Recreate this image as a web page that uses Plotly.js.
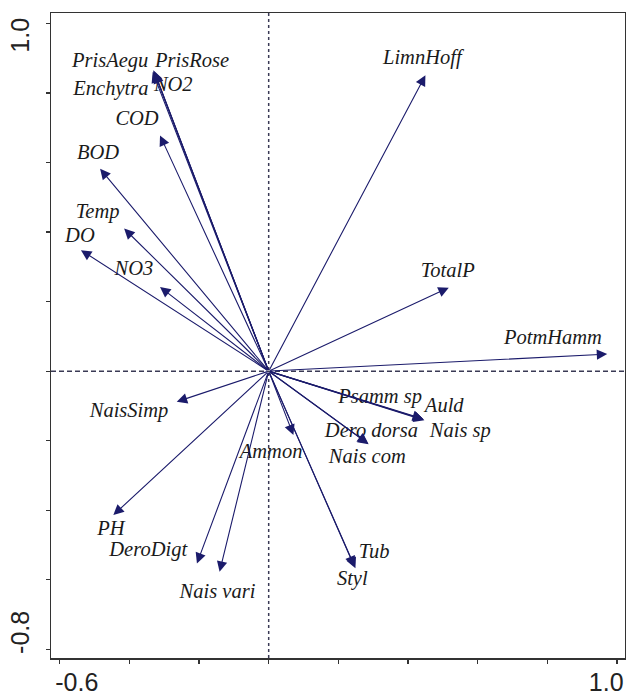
<!DOCTYPE html>
<html>
<head>
<meta charset="utf-8">
<script src="https://cdn.plot.ly/plotly-3.0.1.min.js"></script>
<style>html,body{margin:0;padding:0;background:#fff;}#chart{width:626px;height:695px;}</style>
</head>
<body>
<div id="chart"></div>
<script>
// Arrow tips (biplot scores)
const arrowNames = ["PrisAegu","PrisRose","Enchytra","NO2","COD","BOD","Temp","DO","NO3",
  "LimnHoff","TotalP","PotmHamm","Psamm sp","Auld","Nais sp","Dero dorsa","Nais com",
  "Ammon","Tub","Styl","NaisSimp","PH","DeroDigt","Nais vari"];
const arrowX = [-0.331,-0.329,-0.333,-0.327,-0.312,-0.484,-0.415,-0.539,-0.312,
  0.450,0.517,0.972,0.445,0.443,0.447,0.287,0.285,
  0.071,0.249,0.246,-0.264,-0.446,-0.206,-0.141];
const arrowY = [0.865,0.862,0.860,0.858,0.678,0.582,0.410,0.348,0.242,
  0.851,0.240,0.049,-0.139,-0.137,-0.141,-0.210,-0.208,
  -0.184,-0.567,-0.562,-0.088,-0.414,-0.553,-0.577];

// Label positions (text centres, in axis units)
const labelNames = ["PrisAegu","PrisRose","Enchytra","NO2","COD","BOD","Temp","DO","NO3",
  "LimnHoff","TotalP","PotmHamm","Psamm sp","Auld","Nais sp","Dero dorsa","Nais com",
  "Ammon","Tub","Styl","NaisSimp","PH","DeroDigt","Nais vari"];
const labelX = [-0.455,-0.220,-0.453,-0.274,-0.378,-0.490,-0.491,-0.542,-0.387,
  0.441,0.514,0.816,0.320,0.504,0.550,0.295,0.283,
  0.007,0.303,0.240,-0.401,-0.453,-0.346,-0.147];
const labelY = [0.888,0.888,0.810,0.819,0.724,0.626,0.454,0.386,0.290,
  0.899,0.285,0.092,-0.078,-0.103,-0.174,-0.174,-0.250,
  -0.236,-0.523,-0.601,-0.117,-0.457,-0.516,-0.638];

// Axis ticks
const xTicks = [-0.6,-0.4,-0.2,0,0.2,0.4,0.6,0.8,1.0];
const yTicks = [-0.8,-0.6,-0.4,-0.2,0,0.2,0.4,0.6,0.8,1.0];
const xTickLabels = ["-0.6","1.0"];
const yTickLabels = ["-0.8","1.0"];

const arrowColor = "#1b1b6b";
const xRange = [-0.625, 1.023];
const yRange = [-0.825, 1.03];

const annotations = arrowNames.map((n, i) => ({
  x: arrowX[i], y: arrowY[i], ax: 0, ay: 0,
  xref: "x", yref: "y", axref: "x", ayref: "y",
  text: "", showarrow: true, arrowhead: 2, arrowsize: 1.9, arrowwidth: 1.1,
  arrowcolor: arrowColor, standoff: 0, startstandoff: 0
}));

const traces = [
  {x: labelX, y: labelY, text: labelNames.map(t => "<i>" + t + "</i>"), mode: "text", type: "scatter",
   textposition: "middle center", hoverinfo: "none", showlegend: false,
   textfont: {family: "Liberation Serif", size: 20.5, color: "#1a1a1a"}},
  {x: [0], y: [0], xaxis: "x2", yaxis: "y2", mode: "markers",
   marker: {opacity: 0}, hoverinfo: "none", showlegend: false}
];

const tickFont = {family: "Liberation Sans", size: 25, color: "#222"};

const layout = {
  width: 626, height: 695,
  margin: {l: 51, r: 1, t: 13, b: 37},
  paper_bgcolor: "#fff", plot_bgcolor: "#fff",
  showlegend: false,
  font: {family: "Liberation Sans"},
  xaxis: {range: xRange, tickvals: xTicks, ticktext: xTicks.map(() => ""),
    ticks: "outside", ticklen: 4, tickwidth: 1.2, tickcolor: "#333",
    showline: true, mirror: true, linecolor: "#333", linewidth: 1.5,
    showgrid: false, zeroline: false, fixedrange: true},
  yaxis: {range: yRange, tickvals: yTicks, ticktext: yTicks.map(() => ""),
    ticks: "outside", ticklen: 4, tickwidth: 1.2, tickcolor: "#333",
    showline: true, mirror: true, linecolor: "#333", linewidth: 1.5,
    showgrid: false, zeroline: false, fixedrange: true},
  xaxis2: {overlaying: "x", anchor: "y", side: "bottom", range: xRange,
    tickvals: [-0.551, 0.969], ticktext: xTickLabels,
    ticks: "outside", ticklen: 2, tickcolor: "rgba(0,0,0,0)", showline: false,
    showgrid: false, zeroline: false, fixedrange: true, tickfont: tickFont},
  yaxis2: {overlaying: "y", anchor: "x", side: "left", range: yRange,
    tickvals: [-0.762, 0.955], ticktext: yTickLabels, tickangle: -90,
    ticks: "outside", ticklen: 11, tickcolor: "rgba(0,0,0,0)", showline: false,
    showgrid: false, zeroline: false, fixedrange: true, tickfont: tickFont},
  shapes: [
    {type: "line", xref: "x", yref: "paper", x0: 0, x1: 0, y0: 0, y1: 1,
     line: {color: "#3a3a55", width: 1.5, dash: "3px,3px"}},
    {type: "line", xref: "paper", yref: "y", x0: 0, x1: 1, y0: 0, y1: 0,
     line: {color: "#3a3a55", width: 1.5, dash: "5px,3px"}}
  ],
  annotations: annotations
};

Plotly.newPlot("chart", traces, layout, {displayModeBar: false, staticPlot: true});
</script>
</body>
</html>
